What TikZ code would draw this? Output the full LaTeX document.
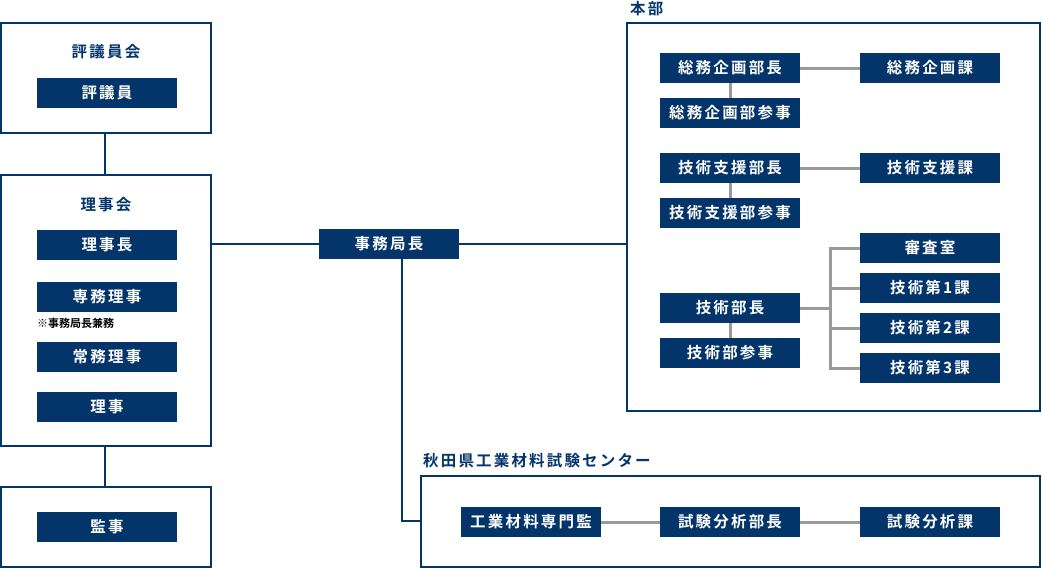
\documentclass[tikz,border=0pt]{standalone}
\usepackage{fontspec}
\usepackage{tikz}
\usetikzlibrary{positioning}
\newfontfamily\jpfont{Noto Sans CJK JP}[BoldFont=* Bold,LetterSpace=14]
\newfontfamily\jpnote{Noto Sans CJK JP}[BoldFont=* Bold]
\definecolor{navy}{HTML}{03356B}
\definecolor{linegray}{HTML}{9A9A9A}

\begin{document}
\begin{tikzpicture}[x=1pt,y=-1pt,
  unit/.style={fill=navy,text=white,minimum width=140pt,minimum height=30pt,inner sep=0pt,font=\jpfont\bfseries\fontsize{15.5}{17}\selectfont},
  frame/.style={draw=navy,line width=2pt},
  grouplabel/.style={text=navy,inner sep=0pt,font=\jpfont\bfseries\fontsize{15.5}{17}\selectfont},
  navyline/.style={draw=navy,line width=2pt},
  grayline/.style={draw=linegray,line width=3pt}]
\useasboundingbox (0,0) rectangle (1042,568);

% Left column: councils and auditor
\draw[frame] (1,23) rectangle (211,133);
\node[grouplabel] (hyogiinkai) at (106,52) {評議員会};
\node[unit] (hyogiin) at (107,93) {評議員};

\draw[frame] (1,175) rectangle (211,446);
\node[grouplabel] (rijikai) at (106,205) {理事会};
\node[unit] (rijicho) at (107,245) {理事長};
\node[unit] (senmu) at (107,297) {専務理事};
\node[anchor=west,inner sep=0pt,font=\jpnote\bfseries\fontsize{11}{13}\selectfont] (note) at (37,323) {※事務局長兼務};
\node[unit] (jomu) at (107,357) {常務理事};
\node[unit] (riji) at (107,407) {理事};

\draw[frame] (1,487) rectangle (211,567);
\node[unit] (kanji) at (107,527) {監事};

\coordinate (c1) at (105,133); \coordinate (c2) at (105,175);
\coordinate (c3) at (105,446); \coordinate (c4) at (105,487);
\draw[navyline] (c1) -- (c2);
\draw[navyline] (c3) -- (c4);

% Secretariat
\node[unit] (jimukyokucho) at (389,244) {事務局長};
\coordinate (rijiedge) at (211,244);
\coordinate (honbuedge) at (627,244);
\draw[navyline] (rijiedge) -- (jimukyokucho.west);
\draw[navyline] (jimukyokucho.east) -- (honbuedge);

% Headquarters
\draw[frame] (627,23) rectangle (1040,411);
\node[grouplabel,anchor=west] (honbu) at (630,9) {本部};
\node[unit] (somubucho) at (730,68) {総務企画部長};
\node[unit] (somuka) at (930,68) {総務企画課};
\node[unit] (somusanji) at (730,113) {総務企画部参事};
\node[unit] (shienbucho) at (730,168) {技術支援部長};
\node[unit] (shienka) at (930,168) {技術支援課};
\node[unit] (shiensanji) at (730,213) {技術支援部参事};
\node[unit] (gijutsubucho) at (730,308) {技術部長};
\node[unit] (gijutsusanji) at (730,353) {技術部参事};
\node[unit] (shinsa) at (930,248) {審査室};
\node[unit] (ka1) at (930,288) {技術第1課};
\node[unit] (ka2) at (930,328) {技術第2課};
\node[unit] (ka3) at (930,368) {技術第3課};

\draw[grayline] (somubucho) -- (somuka);
\draw[grayline] (somubucho) -- (somusanji);
\draw[grayline] (shienbucho) -- (shienka);
\draw[grayline] (shienbucho) -- (shiensanji);
\draw[grayline] (gijutsubucho) -- (gijutsusanji);
\coordinate (branch) at (830,308);
\draw[grayline] (gijutsubucho.east) -- (branch);
\draw[grayline] (shinsa.west) -| (branch) |- (ka3.west);
\foreach \k in {ka1,ka2} \draw[grayline] (branch |- \k.west) -- (\k.west);

% Materials testing center
\draw[frame] (421,476) rectangle (1040,567);
\node[grouplabel,anchor=west] (center) at (423,461) {秋田県工業材料試験センター};
\node[unit] (senmonkan) at (531,522) {工業材料専門監};
\node[unit] (bunsekibucho) at (730,522) {試験分析部長};
\node[unit] (bunsekika) at (930,522) {試験分析課};
\coordinate (drop) at (402,259);
\coordinate (centeredge) at (421,521);
\draw[navyline] (drop) |- (centeredge);
\draw[grayline] (senmonkan) -- (bunsekibucho);
\draw[grayline] (bunsekibucho) -- (bunsekika);
\end{tikzpicture}
\end{document}
